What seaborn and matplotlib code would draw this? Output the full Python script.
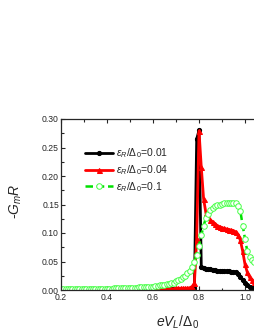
import numpy as np
import matplotlib
matplotlib.use("Agg")
import matplotlib.pyplot as plt
import seaborn as sns

# bias grid eV_L/Delta_0
ev = np.round(np.arange(0.20, 1.045, 0.01), 2)

# -G_m R for eps_R/Delta_0 = 0.01
g001 = [0.001] * 51 + [
    0.001, 0.001, 0.001, 0.002, 0.002, 0.002, 0.003,        # 0.71-0.77
    0.004, 0.265, 0.280, 0.040,                              # 0.78-0.81
    0.038, 0.037, 0.036, 0.036, 0.035, 0.035, 0.034, 0.034,  # 0.82-0.89
    0.034, 0.033, 0.033, 0.033, 0.032, 0.032, 0.031,        # 0.90-0.96
    0.028, 0.023, 0.017, 0.012, 0.008, 0.006, 0.004, 0.003,  # 0.97-1.04
]

# eps_R/Delta_0 = 0.04
g004 = [0.002] * 41 + [
    0.002, 0.002, 0.002, 0.002, 0.002, 0.002, 0.002, 0.002, 0.002, 0.003,  # 0.61-0.70
    0.003, 0.003, 0.003, 0.003, 0.003, 0.004, 0.006,        # 0.71-0.77
    0.012, 0.090, 0.279, 0.215,                              # 0.78-0.81
    0.160, 0.135, 0.128, 0.123, 0.119, 0.116, 0.113, 0.111,  # 0.82-0.89
    0.109, 0.108, 0.107, 0.106, 0.105, 0.104, 0.102,        # 0.90-0.96
    0.097, 0.087, 0.068, 0.045, 0.031, 0.022, 0.017, 0.014,  # 0.97-1.04
]

# eps_R/Delta_0 = 0.1
g01 = [
    0.002, 0.002, 0.002, 0.002, 0.002, 0.002, 0.002, 0.002, 0.002, 0.002,  # 0.20-0.29
    0.002, 0.002, 0.002, 0.002, 0.002, 0.002, 0.002, 0.002, 0.002, 0.002,  # 0.30-0.39
    0.002, 0.002, 0.002, 0.003, 0.003, 0.003, 0.003, 0.003, 0.003, 0.004,  # 0.40-0.49
    0.004, 0.004, 0.004, 0.004, 0.005, 0.005, 0.005, 0.005, 0.006, 0.006,  # 0.50-0.59
    0.006, 0.007, 0.007, 0.008, 0.008, 0.009, 0.010, 0.011, 0.012, 0.013,  # 0.60-0.69
    0.015, 0.017, 0.019, 0.022, 0.025, 0.029, 0.034, 0.040,  # 0.70-0.77
    0.050, 0.062, 0.078, 0.096,                              # 0.78-0.81
    0.113, 0.126, 0.134, 0.140, 0.144, 0.147, 0.149, 0.150,  # 0.82-0.89
    0.151, 0.152, 0.153, 0.153, 0.153, 0.153, 0.152,        # 0.90-0.96
    0.148, 0.138, 0.113, 0.090, 0.068, 0.058, 0.053, 0.050,  # 0.97-1.04
]

labels = [r"$\varepsilon_R/\Delta_0$=0.01", r"$\varepsilon_R/\Delta_0$=0.04",
          r"$\varepsilon_R/\Delta_0$=0.1"]

sns.set_style("ticks")
plt.rcParams["font.family"] = ["Liberation Sans", "DejaVu Sans"]
plt.rcParams["mathtext.fontset"] = "custom"
plt.rcParams["mathtext.rm"] = "Liberation Sans"
plt.rcParams["mathtext.it"] = "Liberation Sans:italic"

fig = plt.figure(figsize=(2.55, 3.3), dpi=100)
ax = fig.add_axes([61 / 255, 1 - 290 / 330, 194 / 255, 171 / 330])

sns.lineplot(x=ev, y=g001, ax=ax, color="black", lw=2.0, marker="o", ms=3.0,
             mec="black", mfc="black", label=labels[0])
sns.lineplot(x=ev, y=g004, ax=ax, color="red", lw=2.0, marker="^", ms=3.6,
             mec="red", mfc="red", label=labels[1])
sns.lineplot(x=ev, y=g01, ax=ax, color="#00e000", lw=1.8, ls=(0, (3, 1.5)), marker="o",
             ms=4.0, mec="#44ff44", mfc="white", mew=0.7, label=labels[2])

ax.set_xlim(0.2, 1.0435)
ax.set_ylim(0.0, 0.30)
ax.set_xticks([0.2, 0.4, 0.6, 0.8, 1.0])
ax.set_yticks([0.00, 0.05, 0.10, 0.15, 0.20, 0.25, 0.30])
ax.set_xticks(np.arange(0.3, 1.05, 0.2), minor=True)
ax.set_yticks(np.arange(0.025, 0.3, 0.05), minor=True)
ax.xaxis.set_major_formatter(matplotlib.ticker.FormatStrFormatter("%.1f"))
ax.yaxis.set_major_formatter(matplotlib.ticker.FormatStrFormatter("%.2f"))
ax.tick_params(which="both", direction="out", labelsize=6.2, width=0.8, pad=1.5)
ax.tick_params(which="major", length=3)
ax.tick_params(which="minor", length=1.8)
ax.tick_params(axis="x", which="both", pad=2.5)
ax.tick_params(top=True, which="both", direction="in")
ax.tick_params(axis="x", which="both", top=True, labeltop=False)
for s in ["left", "bottom", "top"]:
    ax.spines[s].set_linewidth(0.9)
ax.spines["right"].set_visible(False)

ax.set_xlabel(r"$eV_L/\Delta_0$", fontsize=10)
ax.set_ylabel(r"-$G_m R$", fontsize=10)
ax.xaxis.set_label_coords(0.6, -0.14)
ax.yaxis.set_label_coords(-0.19, 0.52)

ax.legend(loc="upper left", bbox_to_anchor=(0.1, 0.865), frameon=False, fontsize=7.5,
          handlelength=2.7, numpoints=1, labelspacing=0.3, handletextpad=0.3,
          borderaxespad=0)

fig.savefig("out.png", dpi=100)
